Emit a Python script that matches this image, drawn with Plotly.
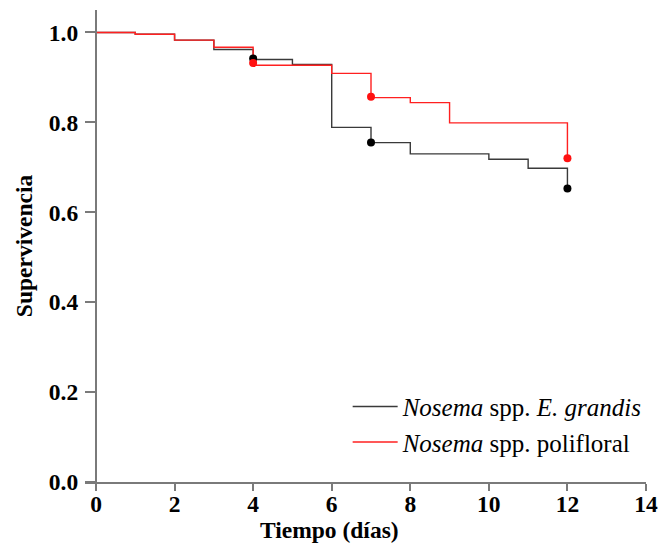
import plotly.graph_objects as go

# Data
times = [0, 1, 2, 3, 4, 5, 6, 7, 8, 9, 10, 11, 12]
surv_grandis = [1.0, 0.996, 0.983, 0.962, 0.940, 0.929, 0.789, 0.755, 0.730, 0.730, 0.718, 0.698, 0.654]
surv_polifloral = [1.0, 0.996, 0.983, 0.967, 0.927, 0.927, 0.909, 0.855, 0.844, 0.799, 0.799, 0.799, 0.720]

dot_times = [4, 7, 12]
dot_grandis = [0.942, 0.755, 0.653]
dot_polifloral = [0.932, 0.857, 0.720]

x_ticks = [0, 2, 4, 6, 8, 10, 12, 14]
y_ticks = [0.0, 0.2, 0.4, 0.6, 0.8, 1.0]

name_grandis = "<i>Nosema</i> spp. <i>E. grandis</i>"
name_polifloral = "<i>Nosema</i> spp. polifloral"

BLACK = "#3a3a3a"
RED = "#ff2020"
AXIS = "#7a7a7a"
FONT = "Liberation Serif"
BOLD = 23.5

fig = go.Figure()
fig.add_trace(go.Scatter(x=times, y=surv_grandis, mode="lines", line=dict(shape="hv", color=BLACK, width=1.4),
                         name=name_grandis))
fig.add_trace(go.Scatter(x=times, y=surv_polifloral, mode="lines", line=dict(shape="hv", color=RED, width=1.4),
                         name=name_polifloral))
fig.add_trace(go.Scatter(x=dot_times, y=dot_grandis, mode="markers", marker=dict(color="black", size=8),
                         showlegend=False))
fig.add_trace(go.Scatter(x=dot_times, y=dot_polifloral, mode="markers", marker=dict(color="#ff1010", size=8),
                         showlegend=False))

fig.update_layout(
    width=668, height=547,
    margin=dict(l=85, r=17, t=10, b=65),
    paper_bgcolor="white", plot_bgcolor="white",
    font=dict(family=FONT, color="black"),
    showlegend=True,
    legend=dict(x=(350 - 85) / 566, y=(482.3 - 384) / 472, xanchor="left", yanchor="top",
                font=dict(family=FONT, size=25, color="black"), bgcolor="rgba(0,0,0,0)",
                tracegroupgap=0, itemwidth=45),
    xaxis=dict(range=[-0.28, 14], tickvals=x_ticks, ticks="outside", ticklen=7, tickwidth=1.5,
               tickcolor=AXIS, showline=True, linecolor=AXIS, linewidth=2, showgrid=False, zeroline=False,
               ticklabelstandoff=-7,
               tickfont=dict(family=FONT, size=BOLD, color="black", weight="bold")),
    yaxis=dict(range=[0, 1.05], tickvals=y_ticks, tickformat=".1f", ticks="outside", ticklen=10, tickwidth=1.5,
               tickcolor=AXIS, showline=True, linecolor=AXIS, linewidth=2, showgrid=False, zeroline=False,
               anchor="free", position=11 / 566, ticklabelstandoff=2,
               tickfont=dict(family=FONT, size=BOLD, color="black", weight="bold"),
               title=dict(text="Supervivencia", standoff=9,
                          font=dict(family=FONT, size=BOLD, color="black", weight="bold"))),
    annotations=[dict(text="Tiempo (días)", xref="paper", yref="paper", x=(332 - 85) / 566,
                      y=(482.3 - 530) / 472, xanchor="center", yanchor="middle", showarrow=False,
                      font=dict(family=FONT, size=BOLD, color="black", weight="bold"))],
)

fig.write_html("out.html")
